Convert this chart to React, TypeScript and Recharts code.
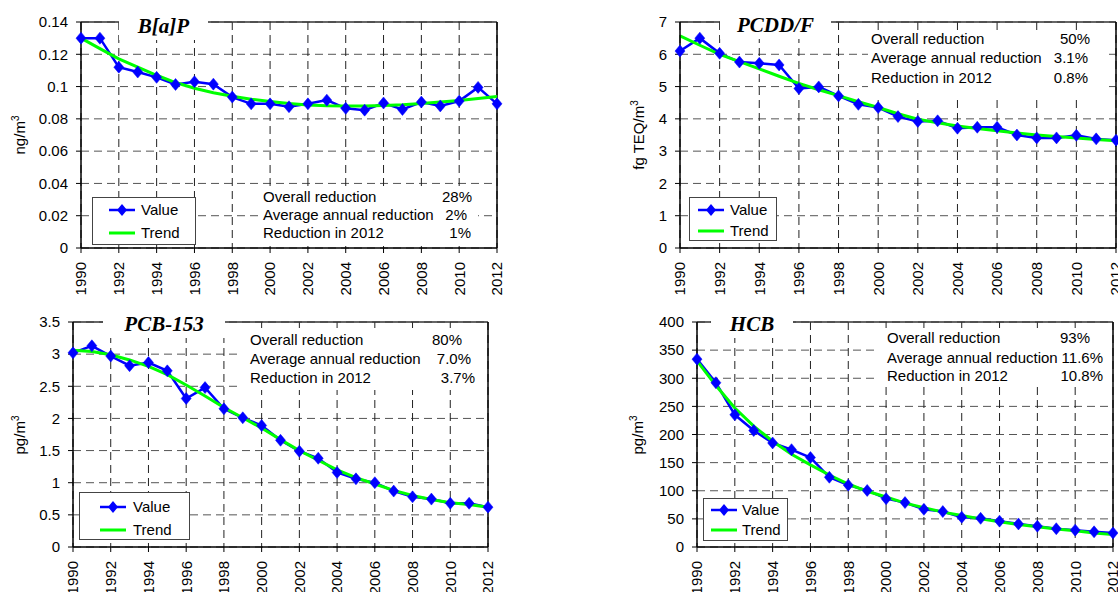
import React from 'react';
import { LineChart, Line, XAxis, YAxis, CartesianGrid, ReferenceLine, Legend } from 'recharts';

const FONT = "'Liberation Sans', Arial, sans-serif";
const SERIF = "'Liberation Serif', 'Times New Roman', serif";

const years = [1990, 1991, 1992, 1993, 1994, 1995, 1996, 1997, 1998, 1999, 2000, 2001, 2002, 2003, 2004, 2005, 2006, 2007, 2008, 2009, 2010, 2011, 2012];
const yearTicks = [1990, 1992, 1994, 1996, 1998, 2000, 2002, 2004, 2006, 2008, 2010, 2012];

const bapValue = [0.130, 0.130, 0.112, 0.109, 0.1057, 0.1013, 0.103, 0.1015, 0.0935, 0.0893, 0.0893, 0.0875, 0.0893, 0.0916, 0.0865, 0.0854, 0.0898, 0.0858, 0.0904, 0.088, 0.091, 0.0995, 0.0893];
const bapTrend = [0.130, 0.1235, 0.1172, 0.112, 0.107, 0.1025, 0.099, 0.0962, 0.094, 0.0922, 0.0908, 0.0895, 0.0886, 0.0881, 0.0879, 0.0879, 0.0882, 0.0887, 0.0895, 0.0904, 0.0914, 0.0926, 0.0938];
const bapTicks = [0, 0.02, 0.04, 0.06, 0.08, 0.1, 0.12, 0.14];

const pcddValue = [6.1, 6.5, 6.03, 5.76, 5.72, 5.67, 4.94, 4.99, 4.71, 4.45, 4.35, 4.07, 3.92, 3.94, 3.71, 3.74, 3.74, 3.5, 3.41, 3.41, 3.49, 3.38, 3.34];
const pcddTrend = [6.57, 6.28, 6.0, 5.77, 5.55, 5.32, 5.1, 4.9, 4.72, 4.53, 4.35, 4.16, 3.99, 3.88, 3.78, 3.7, 3.63, 3.56, 3.5, 3.45, 3.41, 3.36, 3.32];
const pcddTicks = [0, 1, 2, 3, 4, 5, 6, 7];

const pcbValue = [3.02, 3.13, 2.97, 2.82, 2.87, 2.74, 2.31, 2.48, 2.15, 2.01, 1.89, 1.66, 1.49, 1.38, 1.16, 1.06, 1.0, 0.87, 0.78, 0.745, 0.68, 0.68, 0.62];
const pcbTrend = [3.06, 3.04, 2.99, 2.91, 2.81, 2.68, 2.52, 2.35, 2.17, 2.01, 1.85, 1.67, 1.5, 1.35, 1.2, 1.08, 0.98, 0.88, 0.8, 0.74, 0.69, 0.66, 0.62];
const pcbTicks = [0, 0.5, 1, 1.5, 2, 2.5, 3, 3.5];

const hcbValue = [334, 292, 235, 207, 185, 173, 159, 124, 110, 100.5, 86, 79, 67, 63, 53, 51, 46, 41, 37, 32.5, 30, 27, 25];
const hcbTrend = [331, 287, 247, 215, 188, 165, 146, 128, 112, 99, 89, 78, 70, 62, 56, 50, 45, 40, 36, 32, 29, 25, 22];
const hcbTicks = [0, 50, 100, 150, 200, 250, 300, 350, 400];

const bapTitle = 'B[a]P';
const pcddTitle = 'PCDD/F';
const pcbTitle = 'PCB-153';
const hcbTitle = 'HCB';

const bapNotes = [['Overall reduction', '28%'], ['Average annual reduction', '2%'], ['Reduction in 2012', '1%']];
const pcddNotes = [['Overall reduction', '50%'], ['Average annual reduction', '3.1%'], ['Reduction in 2012', '0.8%']];
const pcbNotes = [['Overall reduction', '80%'], ['Average annual reduction', '7.0%'], ['Reduction in 2012', '3.7%']];
const hcbNotes = [['Overall reduction', '93%'], ['Average annual reduction', '11.6%'], ['Reduction in 2012', '10.8%']];

const seriesOrder = ['value', 'trend'];

const Diamond = (props: any) => {
  const { cx, cy } = props;
  if (cx == null || cy == null) return null;
  return (
    <polygon
      points={`${cx},${cy - 6} ${cx + 5},${cy} ${cx},${cy + 6} ${cx - 5},${cy}`}
      fill="#0000FF"
      stroke="#0000FF"
      strokeWidth={0.5}
    />
  );
};

const XTick = (props: any) => {
  const { x, y, payload } = props;
  return (
    <text
      x={x}
      y={y}
      transform={`rotate(-90 ${x} ${y})`}
      textAnchor="end"
      dy="0.36em"
      fontSize={15}
      fill="#000"
      fontFamily={FONT}
    >
      {payload.value}
    </text>
  );
};

const makeLegend = (lg: any) => (props: any) => {
  const payload = (props.payload || [])
    .filter((p: any) => p.type !== 'none')
    .slice()
    .sort((a: any, b: any) => seriesOrder.indexOf(a.dataKey) - seriesOrder.indexOf(b.dataKey));
  return (
    <div
      style={{
        width: lg.width,
        height: lg.height,
        boxSizing: 'border-box',
        border: '1px solid #444',
        background: '#fff',
        position: 'relative',
        fontFamily: FONT,
        fontSize: 15,
        color: '#000',
      }}
    >
      {payload.map((p: any, i: number) => {
        const rowY = i === 0 ? lg.row1 : lg.row2;
        const isValue = p.dataKey === 'value';
        return (
          <div key={i} style={{ position: 'absolute', left: 0, top: rowY - 10, height: 20, width: '100%' }}>
            <svg width={26} height={20} style={{ position: 'absolute', left: lg.iconX - 1, top: 0 }}>
              <line x1={0} y1={10} x2={26} y2={10} stroke={p.color} strokeWidth={isValue ? 2.5 : 3} />
              {isValue ? <polygon points="13,4 18,10 13,16 8,10" fill={p.color} /> : null}
            </svg>
            <span style={{ position: 'absolute', left: lg.textX - 1, top: 0, lineHeight: '20px', whiteSpace: 'nowrap' }}>{p.value}</span>
          </div>
        );
      })}
    </div>
  );
};

const panels = [
  {
    key: 'bap', left: 0, top: 0, width: 520, height: 300, yAxisWidth: 81,
    margin: { top: 22, right: 23, left: 0, bottom: 2 },
    values: bapValue, trend: bapTrend, yTicks: bapTicks,
    yLabel: 'ng/m', yLabelX: 25, yLabelY: 135,
    legend: { left: 92, top: 197, width: 104, height: 48, iconX: 17, textX: 49, row1: 12, row2: 35 },
    title: bapTitle, titleBox: [119, 208], titleTop: 14,
    notes: bapNotes, noteBox: [258, 478, 188, 246], noteX: 263, noteY: [197, 215, 233], noteRight: [472, 467, 471],
  },
  {
    key: 'pcdd', left: 599, top: 0, width: 540, height: 300, yAxisWidth: 81,
    margin: { top: 22, right: 23, left: 0, bottom: 2 },
    values: pcddValue, trend: pcddTrend, yTicks: pcddTicks,
    yLabel: 'fg TEQ/m', yLabelX: 644, yLabelY: 135,
    legend: { left: 90, top: 197, width: 88, height: 44, iconX: 9, textX: 41, row1: 12, row2: 33 },
    title: pcddTitle, titleBox: [720, 831], titleTop: 13,
    notes: pcddNotes, noteBox: [868, 1107, 30, 97], noteX: 871, noteY: [39, 58.3, 77.7], noteRight: [1090, 1088, 1088],
  },
  {
    key: 'pcb', left: 0, top: 300, width: 511, height: 300, yAxisWidth: 73,
    margin: { top: 22, right: 23, left: 0, bottom: 3 },
    values: pcbValue, trend: pcbTrend, yTicks: pcbTicks,
    yLabel: 'pg/m', yLabelX: 25, yLabelY: 435,
    legend: { left: 79, top: 192, width: 111, height: 48, iconX: 21, textX: 54, row1: 14, row2: 37 },
    title: pcbTitle, titleBox: [103, 225], titleTop: 312,
    notes: pcbNotes, noteBox: [240, 486, 328, 390], noteX: 250, noteY: [340, 359, 377.7], noteRight: [462, 471, 475],
  },
  {
    key: 'hcb', left: 599, top: 300, width: 537, height: 300, yAxisWidth: 98,
    margin: { top: 22, right: 23, left: 0, bottom: 3 },
    values: hcbValue, trend: hcbTrend, yTicks: hcbTicks,
    yLabel: 'pg/m', yLabelX: 643, yLabelY: 435,
    legend: { left: 104, top: 198, width: 85, height: 43, iconX: 8, textX: 39, row1: 11, row2: 31 },
    title: hcbTitle, titleBox: [711, 793], titleTop: 312,
    notes: hcbNotes, noteBox: [876, 1111, 328, 385], noteX: 887, noteY: [338.3, 357.7, 376], noteRight: [1090, 1103, 1103],
  },
];

function Panel({ cfg }: { cfg: any }) {
  const data = years.map((y, i) => ({ year: y, value: cfg.values[i], trend: cfg.trend[i] }));
  const ymax = cfg.yTicks[cfg.yTicks.length - 1];
  const bx = cfg.yLabelX - cfg.left;
  const by = cfg.yLabelY - cfg.top;
  const LegendContent = makeLegend(cfg.legend);
  return (
    <div style={{ position: 'absolute', left: cfg.left, top: cfg.top }}>
      <LineChart width={cfg.width} height={cfg.height} data={data} margin={cfg.margin} style={{ fontFamily: FONT }}>
        <CartesianGrid horizontal vertical={false} stroke="#555" strokeDasharray="8 5" />
        <CartesianGrid horizontal={false} vertical stroke="#222" strokeDasharray="8 5" />
        <XAxis
          type="number"
          dataKey="year"
          domain={[1990, 2012]}
          ticks={yearTicks}
          interval={0}
          height={50}
          tickSize={5}
          tickMargin={9}
          tick={<XTick />}
          axisLine={{ stroke: '#000', strokeWidth: 1.5 }}
          tickLine={{ stroke: '#000' }}
        />
        <YAxis
          type="number"
          domain={[0, ymax]}
          ticks={cfg.yTicks}
          interval={0}
          width={cfg.yAxisWidth}
          tickSize={5}
          tickMargin={8}
          tick={{ fill: '#000', fontSize: 15, fontFamily: FONT }}
          axisLine={{ stroke: '#000', strokeWidth: 1.5 }}
          tickLine={{ stroke: '#000' }}
          label={{
            content: () => (
              <text
                x={bx}
                y={by}
                transform={`rotate(-90 ${bx} ${by})`}
                textAnchor="middle"
                fontSize={15}
                fill="#000"
                fontFamily={FONT}
              >
                <tspan>{cfg.yLabel}</tspan>
                <tspan dy={-6} fontSize={10}>3</tspan>
              </text>
            ),
          }}
        />
        <ReferenceLine y={ymax} stroke="#333" strokeWidth={1.5} />
        <ReferenceLine x={2012} stroke="#000" strokeWidth={1.5} />
        <Line dataKey="value" name="Value" stroke="#0000FF" strokeWidth={2.5} dot={false} activeDot={false} isAnimationActive={false} />
        <Line dataKey="trend" name="Trend" stroke="#00FF00" strokeWidth={3} dot={false} activeDot={false} isAnimationActive={false} />
        <Line
          dataKey="value"
          name="markers"
          legendType="none"
          stroke="none"
          dot={(p: any) => <Diamond key={`d${p.index}`} {...p} />}
          activeDot={false}
          isAnimationActive={false}
        />
        <Legend
          layout="vertical"
          align="center"
          verticalAlign="middle"
          wrapperStyle={{ left: cfg.legend.left, top: cfg.legend.top, width: cfg.legend.width, height: cfg.legend.height }}
          content={LegendContent}
        />
      </LineChart>
    </div>
  );
}

function Overlay({ cfg }: { cfg: any }) {
  const [bl, br, bt, bb] = cfg.noteBox;
  return (
    <>
      <div
        style={{
          position: 'absolute',
          left: cfg.titleBox[0],
          width: cfg.titleBox[1] - cfg.titleBox[0],
          top: cfg.titleTop,
          height: 26,
          background: '#fff',
          textAlign: 'center',
          fontFamily: SERIF,
          fontWeight: 'bold',
          fontStyle: 'italic',
          fontSize: 21,
          lineHeight: '24px',
          color: '#000',
          whiteSpace: 'nowrap',
        }}
      >
        {cfg.title}
      </div>
      <div style={{ position: 'absolute', left: bl, top: bt, width: br - bl, height: bb - bt, background: '#fff' }} />
      {cfg.notes.map((n: string[], i: number) => (
        <React.Fragment key={i}>
          <div
            style={{
              position: 'absolute',
              left: cfg.noteX,
              top: cfg.noteY[i] - 9,
              lineHeight: '18px',
              fontSize: 15,
              fontFamily: FONT,
              color: '#000',
              whiteSpace: 'nowrap',
            }}
          >
            {n[0]}
          </div>
          <div
            style={{
              position: 'absolute',
              right: 1118 - cfg.noteRight[i],
              top: cfg.noteY[i] - 9,
              lineHeight: '18px',
              fontSize: 15,
              fontFamily: FONT,
              color: '#000',
              whiteSpace: 'nowrap',
              textAlign: 'right',
            }}
          >
            {n[1]}
          </div>
        </React.Fragment>
      ))}
    </>
  );
}

export default function App() {
  return (
    <div
      style={{
        position: 'absolute',
        left: 0,
        top: 0,
        width: 1118,
        height: 592,
        overflow: 'hidden',
        background: '#fff',
        fontFamily: FONT,
      }}
    >
      {panels.map((p) => (
        <Panel key={p.key} cfg={p} />
      ))}
      {panels.map((p) => (
        <Overlay key={`o${p.key}`} cfg={p} />
      ))}
    </div>
  );
}
